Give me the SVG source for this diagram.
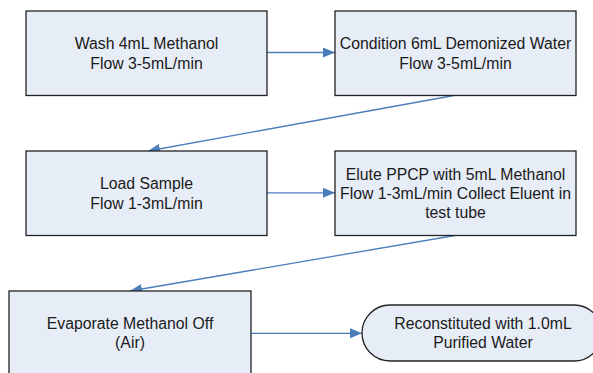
<svg xmlns="http://www.w3.org/2000/svg" width="593" height="373" viewBox="0 0 593 373">
<style>
.box{fill:#E7EDF7;stroke:#222;stroke-width:1.3}
.lbl{font-family:"Liberation Sans",Arial,sans-serif;font-size:15.8px;fill:#1a1a1a;text-anchor:middle}
.conn{stroke:#4A7EBB;stroke-width:1.3;fill:none;marker-end:url(#ah)}
</style>
<defs>
<marker id="ah" viewBox="0 0 12 10" refX="12" refY="5" markerWidth="12" markerHeight="10" markerUnits="userSpaceOnUse" orient="auto">
<path d="M0,0 L12,5 L0,10 Z" fill="#4A7EBB"/>
</marker>
</defs>
<rect width="593" height="373" fill="#fff"/>
<g id="connectors">
<line class="conn" x1="267" y1="52.5" x2="335" y2="52.5"/>
<line class="conn" x1="454" y1="95.5" x2="148" y2="151"/>
<line class="conn" x1="267" y1="192.8" x2="335" y2="192.8"/>
<line class="conn" x1="455" y1="235.5" x2="130" y2="291"/>
<line class="conn" x1="251" y1="333.3" x2="362" y2="333.3"/>
</g>
<g id="wash">
<rect class="box" x="26" y="11" width="241" height="84.5"/>
<text class="lbl" x="146.5" y="49.3">Wash 4mL Methanol</text>
<text class="lbl" x="146.5" y="68.8">Flow 3-5mL/min</text>
</g>
<g id="condition">
<rect class="box" x="335" y="11" width="241" height="84.5"/>
<text class="lbl" x="455.5" y="49.3">Condition 6mL Demonized Water</text>
<text class="lbl" x="455.5" y="68.8">Flow 3-5mL/min</text>
</g>
<g id="load">
<rect class="box" x="26" y="151" width="241" height="84.5"/>
<text class="lbl" x="146.5" y="189.3">Load Sample</text>
<text class="lbl" x="146.5" y="208.5">Flow 1-3mL/min</text>
</g>
<g id="elute">
<rect class="box" x="335" y="151" width="241" height="84.5"/>
<text class="lbl" x="455.5" y="180">Elute PPCP with 5mL Methanol</text>
<text class="lbl" x="455.5" y="199">Flow 1-3mL/min Collect Eluent in</text>
<text class="lbl" x="455.5" y="218">test tube</text>
</g>
<g id="evaporate">
<rect class="box" x="9" y="291" width="242" height="90"/>
<text class="lbl" x="130" y="329">Evaporate Methanol Off</text>
<text class="lbl" x="130" y="348">(Air)</text>
</g>
<g id="reconstitute">
<rect class="box" x="362" y="305" width="240" height="56" rx="28" ry="28"/>
<text class="lbl" x="483" y="329">Reconstituted with 1.0mL</text>
<text class="lbl" x="483" y="348">Purified Water</text>
</g>
</svg>
